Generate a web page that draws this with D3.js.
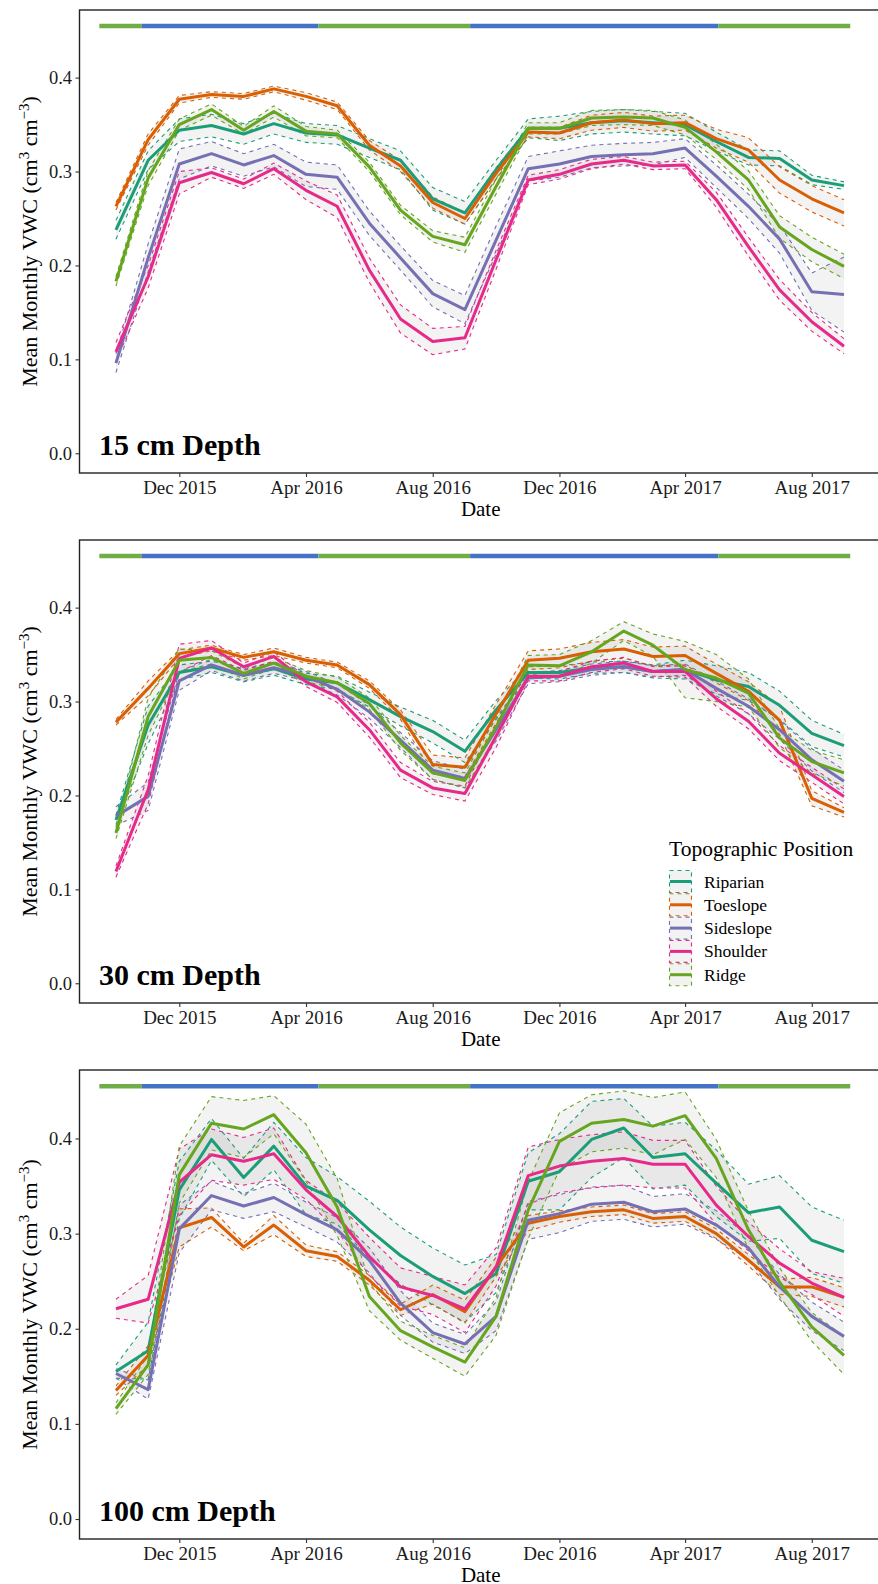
<!DOCTYPE html>
<html>
<head>
<meta charset="utf-8">
<script src="https://cdn.jsdelivr.net/npm/d3@7"></script>
<style>
	body { margin: 0; background: #fff; }
	svg { display: block; font-family: "Liberation Serif", "Times New Roman", serif; }
</style>
</head>
<body>
<div id="chart"></div>
<script>
// Monthly means, Oct 2015 .. Sep 2017
const months = ["2015-10", "2015-11", "2015-12", "2016-01", "2016-02", "2016-03", "2016-04", "2016-05", "2016-06", "2016-07", "2016-08", "2016-09",
	"2016-10", "2016-11", "2016-12", "2017-01", "2017-02", "2017-03", "2017-04", "2017-05", "2017-06", "2017-07", "2017-08", "2017-09"];
const xTickLabels = ["Dec 2015", "Apr 2016", "Aug 2016", "Dec 2016", "Apr 2017", "Aug 2017"];
const yTicks = [0.0, 0.1, 0.2, 0.3, 0.4];
const positions = ["Riparian", "Toeslope", "Sideslope", "Shoulder", "Ridge"];
const depths = ["15 cm Depth", "30 cm Depth", "100 cm Depth"];

// season bar (growing / dormant)
const seasonStart = ["2015-09-15", "2015-10-26", "2016-04-13", "2016-09-06", "2017-05-03"];
const seasonEnd = ["2015-10-26", "2016-04-13", "2016-09-06", "2017-05-03", "2017-09-07"];
const seasonType = ["growing", "dormant", "growing", "dormant", "growing"];

// 15 cm
const rip15 = [0.238, 0.312, 0.344, 0.349, 0.340, 0.351, 0.341, 0.339, 0.325, 0.312, 0.271, 0.256, 0.302, 0.346, 0.346, 0.352, 0.354, 0.352, 0.350, 0.332, 0.315, 0.314, 0.291, 0.285];
const toe15 = [0.263, 0.334, 0.377, 0.382, 0.380, 0.388, 0.380, 0.370, 0.328, 0.306, 0.267, 0.250, 0.298, 0.342, 0.341, 0.352, 0.355, 0.351, 0.352, 0.335, 0.323, 0.291, 0.271, 0.256];
const side15 = [0.096, 0.208, 0.308, 0.319, 0.307, 0.317, 0.297, 0.294, 0.245, 0.208, 0.170, 0.153, 0.227, 0.303, 0.308, 0.316, 0.318, 0.319, 0.325, 0.295, 0.263, 0.228, 0.172, 0.169];
const shou15 = [0.108, 0.188, 0.288, 0.299, 0.287, 0.303, 0.280, 0.263, 0.195, 0.143, 0.119, 0.123, 0.206, 0.291, 0.297, 0.308, 0.312, 0.306, 0.307, 0.270, 0.220, 0.174, 0.140, 0.114];
const ridge15 = [0.183, 0.293, 0.350, 0.366, 0.344, 0.364, 0.343, 0.340, 0.305, 0.259, 0.231, 0.222, 0.284, 0.346, 0.346, 0.357, 0.358, 0.357, 0.347, 0.321, 0.291, 0.241, 0.217, 0.199];
// half width of the band (se)
const rip15se = [0.010, 0.010, 0.012, 0.012, 0.011, 0.011, 0.010, 0.010, 0.010, 0.010, 0.012, 0.012, 0.010, 0.010, 0.013, 0.012, 0.012, 0.012, 0.012, 0.010, 0.008, 0.008, 0.005, 0.004];
const toe15se = [0.004, 0.006, 0.004, 0.003, 0.003, 0.003, 0.004, 0.004, 0.005, 0.006, 0.006, 0.006, 0.006, 0.005, 0.006, 0.008, 0.008, 0.008, 0.008, 0.010, 0.013, 0.014, 0.014, 0.014];
const side15se = [0.010, 0.015, 0.016, 0.013, 0.012, 0.012, 0.013, 0.013, 0.013, 0.013, 0.014, 0.015, 0.015, 0.013, 0.014, 0.012, 0.012, 0.012, 0.010, 0.012, 0.013, 0.015, 0.020, 0.040];
const shou15se = [0.010, 0.012, 0.012, 0.005, 0.005, 0.006, 0.010, 0.012, 0.013, 0.015, 0.014, 0.012, 0.010, 0.005, 0.005, 0.005, 0.004, 0.004, 0.004, 0.008, 0.010, 0.011, 0.010, 0.008];
const ridge15se = [0.005, 0.008, 0.006, 0.006, 0.004, 0.006, 0.005, 0.004, 0.005, 0.005, 0.006, 0.008, 0.008, 0.006, 0.006, 0.008, 0.008, 0.008, 0.008, 0.008, 0.010, 0.012, 0.013, 0.013];

// 30 cm
const rip30 = [0.174, 0.275, 0.331, 0.337, 0.328, 0.335, 0.324, 0.320, 0.302, 0.284, 0.268, 0.247, 0.291, 0.331, 0.331, 0.336, 0.337, 0.332, 0.334, 0.323, 0.316, 0.296, 0.266, 0.253];
const toe30 = [0.278, 0.314, 0.351, 0.357, 0.347, 0.353, 0.344, 0.339, 0.318, 0.286, 0.233, 0.230, 0.287, 0.344, 0.346, 0.353, 0.356, 0.348, 0.349, 0.330, 0.311, 0.280, 0.197, 0.182];
const side30 = [0.178, 0.199, 0.322, 0.339, 0.328, 0.336, 0.327, 0.313, 0.289, 0.259, 0.227, 0.218, 0.270, 0.325, 0.327, 0.334, 0.337, 0.332, 0.334, 0.314, 0.295, 0.270, 0.238, 0.215];
const shou30 = [0.119, 0.206, 0.346, 0.357, 0.337, 0.348, 0.321, 0.305, 0.270, 0.227, 0.208, 0.202, 0.263, 0.327, 0.327, 0.337, 0.341, 0.332, 0.332, 0.303, 0.279, 0.245, 0.222, 0.199];
const ridge30 = [0.160, 0.284, 0.344, 0.347, 0.330, 0.341, 0.327, 0.320, 0.298, 0.256, 0.224, 0.216, 0.273, 0.339, 0.338, 0.353, 0.375, 0.360, 0.334, 0.325, 0.309, 0.261, 0.236, 0.224];
const rip30se = [0.005, 0.020, 0.008, 0.006, 0.007, 0.007, 0.006, 0.007, 0.008, 0.010, 0.012, 0.012, 0.010, 0.006, 0.007, 0.006, 0.006, 0.007, 0.010, 0.015, 0.015, 0.015, 0.014, 0.012];
const toe30se = [0.003, 0.008, 0.004, 0.003, 0.003, 0.004, 0.003, 0.003, 0.004, 0.005, 0.010, 0.010, 0.010, 0.010, 0.010, 0.010, 0.010, 0.010, 0.010, 0.010, 0.010, 0.015, 0.008, 0.005];
const side30se = [0.010, 0.015, 0.010, 0.006, 0.006, 0.006, 0.005, 0.006, 0.007, 0.008, 0.010, 0.010, 0.012, 0.006, 0.006, 0.006, 0.006, 0.006, 0.006, 0.008, 0.008, 0.010, 0.012, 0.012];
const shou30se = [0.006, 0.015, 0.015, 0.008, 0.004, 0.005, 0.005, 0.006, 0.008, 0.008, 0.007, 0.008, 0.012, 0.005, 0.005, 0.006, 0.006, 0.005, 0.006, 0.008, 0.008, 0.008, 0.008, 0.008];
const ridge30se = [0.006, 0.020, 0.012, 0.007, 0.006, 0.006, 0.006, 0.006, 0.006, 0.008, 0.007, 0.008, 0.010, 0.010, 0.012, 0.012, 0.010, 0.012, 0.030, 0.025, 0.015, 0.010, 0.012, 0.014];

// 100 cm
const rip100 = [0.155, 0.177, 0.346, 0.399, 0.359, 0.392, 0.350, 0.335, 0.304, 0.277, 0.255, 0.237, 0.258, 0.355, 0.365, 0.399, 0.411, 0.380, 0.384, 0.353, 0.322, 0.328, 0.293, 0.281];
const toe100 = [0.135, 0.172, 0.306, 0.317, 0.286, 0.309, 0.282, 0.276, 0.251, 0.220, 0.236, 0.218, 0.265, 0.311, 0.318, 0.323, 0.325, 0.316, 0.318, 0.300, 0.272, 0.244, 0.244, 0.233];
const side100 = [0.153, 0.136, 0.305, 0.340, 0.329, 0.338, 0.320, 0.304, 0.272, 0.227, 0.196, 0.184, 0.213, 0.314, 0.321, 0.331, 0.333, 0.323, 0.326, 0.309, 0.285, 0.244, 0.213, 0.192];
const shou100 = [0.221, 0.231, 0.354, 0.383, 0.376, 0.384, 0.346, 0.318, 0.276, 0.244, 0.235, 0.221, 0.265, 0.361, 0.371, 0.376, 0.379, 0.373, 0.373, 0.330, 0.297, 0.269, 0.248, 0.233];
const ridge100 = [0.116, 0.162, 0.362, 0.416, 0.410, 0.425, 0.385, 0.328, 0.234, 0.198, 0.181, 0.165, 0.213, 0.325, 0.397, 0.416, 0.420, 0.413, 0.424, 0.379, 0.304, 0.249, 0.202, 0.172];
const rip100se = [0.007, 0.030, 0.030, 0.022, 0.020, 0.025, 0.030, 0.025, 0.030, 0.030, 0.030, 0.030, 0.020, 0.030, 0.040, 0.040, 0.031, 0.033, 0.033, 0.035, 0.030, 0.033, 0.035, 0.033];
const toe100se = [0.005, 0.010, 0.020, 0.010, 0.004, 0.010, 0.006, 0.005, 0.005, 0.006, 0.010, 0.012, 0.010, 0.008, 0.006, 0.005, 0.005, 0.005, 0.005, 0.005, 0.006, 0.008, 0.010, 0.010];
const side100se = [0.005, 0.010, 0.025, 0.015, 0.013, 0.015, 0.013, 0.013, 0.013, 0.013, 0.010, 0.010, 0.015, 0.020, 0.020, 0.018, 0.018, 0.016, 0.016, 0.015, 0.012, 0.013, 0.015, 0.015];
const shou100se = [0.010, 0.025, 0.035, 0.027, 0.025, 0.027, 0.010, 0.015, 0.020, 0.020, 0.020, 0.025, 0.020, 0.030, 0.028, 0.028, 0.028, 0.025, 0.025, 0.020, 0.015, 0.015, 0.012, 0.020];
const ridge100se = [0.006, 0.010, 0.030, 0.028, 0.030, 0.020, 0.030, 0.030, 0.015, 0.010, 0.012, 0.015, 0.020, 0.030, 0.030, 0.030, 0.030, 0.030, 0.025, 0.020, 0.020, 0.015, 0.015, 0.020];

const seriesByDepth = [
	[[rip15, rip15se], [toe15, toe15se], [side15, side15se], [shou15, shou15se], [ridge15, ridge15se]],
	[[rip30, rip30se], [toe30, toe30se], [side30, side30se], [shou30, shou30se], [ridge30, ridge30se]],
	[[rip100, rip100se], [toe100, toe100se], [side100, side100se], [shou100, shou100se], [ridge100, ridge100se]],
];

const width = 878;
const height = 1584;
// vertical placement of the three panels
const panels = [
	{ top: 10, bottom: 473 },
	{ top: 540, bottom: 1003 },
	{ top: 1070, bottom: 1539 },
];
const margin = { left: 79.5 };

const colorScale = d3.scaleOrdinal()
	.domain(positions)
	.range(["#1B9E77", "#D95F02", "#7570B3", "#E7298A", "#66A61E"]);
const seasonColor = { growing: "#70AD47", dormant: "#4472C4" };

const parseMonth = d3.timeParse("%Y-%m");
const parseDay = d3.timeParse("%Y-%m-%d");
const parseTick = d3.timeParse("%b %Y");
const dates = months.map(parseMonth);

// Dec 2015 and Aug 2017 tick positions
const xScale = d3.scaleTime()
	.domain([parseTick("Dec 2015"), parseTick("Aug 2017")])
	.range([179.3, 811.8]);

const svg = d3.select("#chart")
	.append("svg")
	.attr("width", width)
	.attr("height", height);

depths.forEach((depthLabel, p) => {
	const panel = panels[p];
	const g = svg.append("g");

	const yScale = d3.scaleLinear()
		.domain([-0.021, 0.472])
		.range([panel.bottom, panel.top]);

	// season bar
	g.selectAll("line.season")
		.data(seasonType)
		.join("line")
		.attr("class", "season")
		.attr("x1", (d, i) => xScale(parseDay(seasonStart[i])))
		.attr("x2", (d, i) => xScale(parseDay(seasonEnd[i])))
		.attr("y1", yScale(0.455))
		.attr("y2", yScale(0.455))
		.attr("stroke", (d) => seasonColor[d])
		.attr("stroke-width", 4.5);

	const series = seriesByDepth[p].map((s, i) => ({
		name: positions[i],
		values: dates.map((d, j) => ({ date: d, mean: s[0][j], se: s[1][j] })),
	}));

	const area = d3.area()
		.x((d) => xScale(d.date))
		.y0((d) => yScale(d.mean - d.se))
		.y1((d) => yScale(d.mean + d.se));
	const lineMean = d3.line().x((d) => xScale(d.date)).y((d) => yScale(d.mean));
	const lineLo = d3.line().x((d) => xScale(d.date)).y((d) => yScale(d.mean - d.se));
	const lineHi = d3.line().x((d) => xScale(d.date)).y((d) => yScale(d.mean + d.se));

	// ribbons
	g.append("g")
		.selectAll("path")
		.data(series)
		.join("path")
		.attr("d", (d) => area(d.values))
		.attr("fill", "#7f7f7f")
		.attr("fill-opacity", 0.09);

	// dashed band edges
	const dashG = g.append("g");
	series.forEach((s) => {
		[lineLo, lineHi].forEach((gen) => {
			dashG.append("path")
				.attr("d", gen(s.values))
				.attr("fill", "none")
				.attr("stroke", colorScale(s.name))
				.attr("stroke-width", 1.1)
				.attr("stroke-dasharray", "4,4");
		});
	});

	// mean lines
	g.append("g")
		.selectAll("path")
		.data(series)
		.join("path")
		.attr("d", (d) => lineMean(d.values))
		.attr("fill", "none")
		.attr("stroke", (d) => colorScale(d.name))
		.attr("stroke-width", 3)
		.attr("stroke-linejoin", "round");

	// panel frame (right side runs off the page)
	g.append("rect")
		.attr("x", margin.left)
		.attr("y", panel.top)
		.attr("width", width)
		.attr("height", panel.bottom - panel.top)
		.attr("fill", "none")
		.attr("stroke", "#222")
		.attr("stroke-width", 1.4);

	// axes
	const yAxis = g.append("g")
		.attr("transform", `translate(${margin.left}, 0)`)
		.call(d3.axisLeft(yScale)
			.tickValues(yTicks)
			.tickFormat(d3.format(".1f"))
			.tickSize(4)
			.tickPadding(3.5));
	const xAxis = g.append("g")
		.attr("transform", `translate(0, ${panel.bottom})`)
		.call(d3.axisBottom(xScale)
			.tickValues(xTickLabels.map(parseTick))
			.tickFormat(d3.timeFormat("%b %Y"))
			.tickSize(4)
			.tickPadding(4));
	[yAxis, xAxis].forEach((ax) => {
		ax.select(".domain").remove();
		ax.selectAll("line").attr("stroke", "#333").attr("stroke-width", 1.1);
		ax.selectAll("text")
			.attr("fill", "#1a1a1a")
			.style("font-family", "Liberation Serif");
	});
	yAxis.selectAll("text").style("font-size", "18.5px");
	xAxis.selectAll("text").style("font-size", "19px");

	// axis titles
	g.append("text")
		.text("Date")
		.attr("x", xScale(parseTick("Aug 2016")) + 48)
		.attr("y", panel.bottom + 43)
		.attr("text-anchor", "middle")
		.style("font-size", "21px");

	const yTitle = g.append("text")
		.attr("text-anchor", "middle")
		.attr("transform", `translate(37, ${(panel.top + panel.bottom) / 2}) rotate(-90)`)
		.style("font-size", "22px");
	yTitle.append("tspan").text("Mean Monthly VWC (cm");
	yTitle.append("tspan").text("3").attr("dy", -8).style("font-size", "15px");
	yTitle.append("tspan").text(" cm").attr("dy", 8);
	yTitle.append("tspan").text("\u22123").attr("dy", -8).style("font-size", "15px");
	yTitle.append("tspan").text(")").attr("dy", 8);

	// depth label
	g.append("text")
		.text(depthLabel)
		.attr("x", 99)
		.attr("y", yScale(0) + 2)
		.style("font-size", "30px")
		.style("font-weight", "bold");

	// legend in middle panel
	if (p === 1) {
		const legend = g.append("g").attr("transform", "translate(669, 856)");
		legend.append("text")
			.text("Topographic Position")
			.attr("x", 0)
			.attr("y", 0)
			.style("font-size", "21.5px");
		const rows = legend.selectAll("g.key")
			.data(positions)
			.join("g")
			.attr("class", "key")
			.attr("transform", (d, i) => `translate(0, ${14 + i * 23.3})`);
		rows.append("rect")
			.attr("x", 0.5)
			.attr("y", 0.5)
			.attr("width", 22)
			.attr("height", 22)
			.attr("fill", "#f2f2f2")
			.attr("stroke", (d) => colorScale(d))
			.attr("stroke-width", 1.1)
			.attr("stroke-dasharray", "4,4");
		rows.append("line")
			.attr("x1", 1)
			.attr("x2", 22)
			.attr("y1", 11.5)
			.attr("y2", 11.5)
			.attr("stroke", (d) => colorScale(d))
			.attr("stroke-width", 3);
		rows.append("text")
			.text((d) => d)
			.attr("x", 35)
			.attr("y", 17.5)
			.style("font-size", "17.5px");
	}
});
</script>
</body>
</html>
